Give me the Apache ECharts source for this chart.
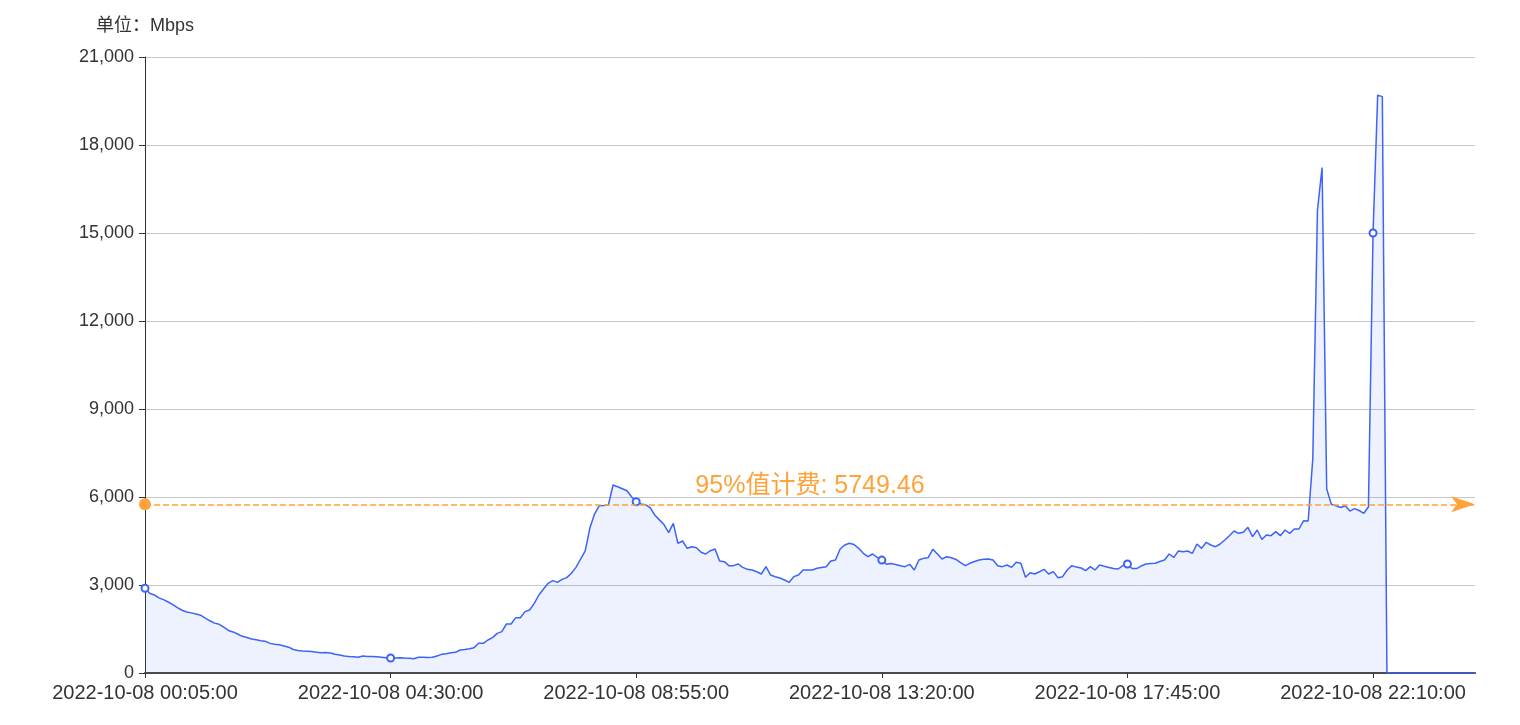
<!DOCTYPE html>
<html>
<head>
<meta charset="utf-8">
<script src="https://cdn.jsdelivr.net/npm/echarts@6/dist/echarts.min.js"></script>
<style>
html,body{margin:0;padding:0;background:#fff;}
#chart{width:1520px;height:725px;}
</style>
</head>
<body>
<div id="chart"></div>
<script>
// Time categories: every 5 minutes from 2022-10-08 00:05:00
const startLabel = '2022-10-08 00:05:00';
const pointCount = 288;
// Traffic values (Mbps), one per 5-minute slot
const trafficSeg1 = [2890,2720,2660,2560,2500,2420,2330,2230,2140,2080,2050,2010,1970,1870,1780,1700,1660,1560,1450,1400,1330,1250,1210,1160,1130,1100,1080,1010,980,960,920,880,800,770,750,740,730,710,690,700,680,640,610,580,560,550,540,580,560,560,550,540,520];
const trafficSeg2 = [510,515,522,510,500,489,534,534,530,534,580,636,660,690,705,784,800,830,864,1012,1012,1125,1205,1352,1409,1670,1670,1886,1886,2091,2148,2375,2659,2864,3057,3148,3091,3193,3250,3398,3600,3886,4160,4940,5420,5700,5710,5727,6410,6350,6283,6215,6010];
const trafficSeg3 = [5840,5760,5740,5640,5386,5220,5060,4784,5103,4421,4500,4251,4306,4272,4114,4057,4170,4227,3818,3795,3659,3659,3716,3602,3534,3511,3450,3375,3625,3340,3284,3240,3170,3091,3284,3341,3511,3511,3511,3570,3600,3625,3818,3852,4227,4364,4421,4380,4250,4080,3965,4057,3943];
const trafficSeg4 = [3850,3705,3730,3700,3659,3625,3705,3511,3852,3909,3932,4216,4057,3886,3965,3930,3870,3760,3659,3740,3800,3852,3880,3886,3852,3659,3625,3682,3602,3773,3739,3261,3420,3375,3450,3534,3375,3455,3250,3284,3511,3659,3610,3580,3489,3625,3511,3682,3640,3600,3560,3545,3659];
const trafficSeg5 = [3716,3560,3560,3650,3716,3730,3740,3800,3850,4057,3943,4159,4136,4159,4079,4398,4250,4455,4364,4306,4398,4534,4681,4841,4761,4795,4966,4647,4875,4557,4705,4681,4818,4681,4875,4761,4909,4909,5190,5180,7310,15770,17230,6270,5750,5700,5640,5700,5520,5605,5540,5445,5660,15000,19700,19650];
const trafficTailZeros = [0,0,0,0,0,0,0,0,0,0,0,0,0,0,0,0,0,0,0,0];
const billing95 = 5749.46;
const yTicks = [0,3000,6000,9000,12000,15000,18000,21000];

const values = [].concat(trafficSeg1, trafficSeg2, trafficSeg3, trafficSeg4, trafficSeg5, trafficTailZeros);

function pad(n){return (n<10?'0':'')+n;}
const categories = [];
{
  const base = new Date(2022, 9, 8, 0, 5, 0);
  for (let i = 0; i < pointCount; i++) {
    const d = new Date(base.getTime() + i * 5 * 60000);
    categories.push(d.getFullYear() + '-' + pad(d.getMonth()+1) + '-' + pad(d.getDate()) + ' ' +
      pad(d.getHours()) + ':' + pad(d.getMinutes()) + ':' + pad(d.getSeconds()));
  }
}

const FONT = '"Liberation Sans", "Noto Sans CJK SC", sans-serif';
const chart = echarts.init(document.getElementById('chart'), null, {renderer:'canvas'});
chart.setOption({
  animation: false,
  textStyle: {fontFamily: FONT},
  grid: {left: 145, right: 45, top: 57, bottom: 52, containLabel: false},
  xAxis: {
    type: 'category',
    data: categories,
    boundaryGap: false,
    axisLine: {lineStyle: {color: '#4a4a4a', width: 2}},
    axisTick: {show: true, interval: 52, alignWithLabel: true, lineStyle: {color: '#333'}},
    axisLabel: {interval: 52, color: '#333', fontSize: 20, margin: 10, fontFamily: FONT},
    splitLine: {show: false}
  },
  yAxis: {
    type: 'value',
    min: yTicks[0],
    max: yTicks[yTicks.length-1],
    interval: 3000,
    name: '单位：Mbps',
    nameLocation: 'end',
    nameGap: 22,
    nameTextStyle: {color: '#333', fontSize: 18, fontFamily: FONT, align: 'center'},
    axisLine: {show: true, lineStyle: {color: '#333', width: 1}},
    axisTick: {show: true, length: 6, lineStyle: {color: '#333'}},
    axisLabel: {color: '#333', fontSize: 18, margin: 11, fontFamily: FONT},
    splitLine: {lineStyle: {color: '#c8c8c8', width: 1}}
  },
  series: [{
    type: 'line',
    data: values,
    symbol: 'emptyCircle',
    symbolSize: 7,
    showAllSymbol: 'auto',
    lineStyle: {color: '#3d63f8', width: 1.5},
    itemStyle: {color: '#3d63f8', borderWidth: 1.5},
    areaStyle: {color: 'rgba(61,90,245,0.12)'},
    markLine: {
      silent: true,
      symbol: ['circle', 'arrow'],
      symbolSize: [12, 24],
      lineStyle: {color: '#ffa23a', type: 'dashed', width: 1.5},
      label: {
        show: true,
        position: 'middle',
        formatter: '95%值计费: {c}',
        color: '#ffa23a',
        fontSize: 25,
        fontFamily: FONT,
        distance: 6
      },
      data: [{yAxis: billing95}]
    }
  }]
});
</script>
</body>
</html>
